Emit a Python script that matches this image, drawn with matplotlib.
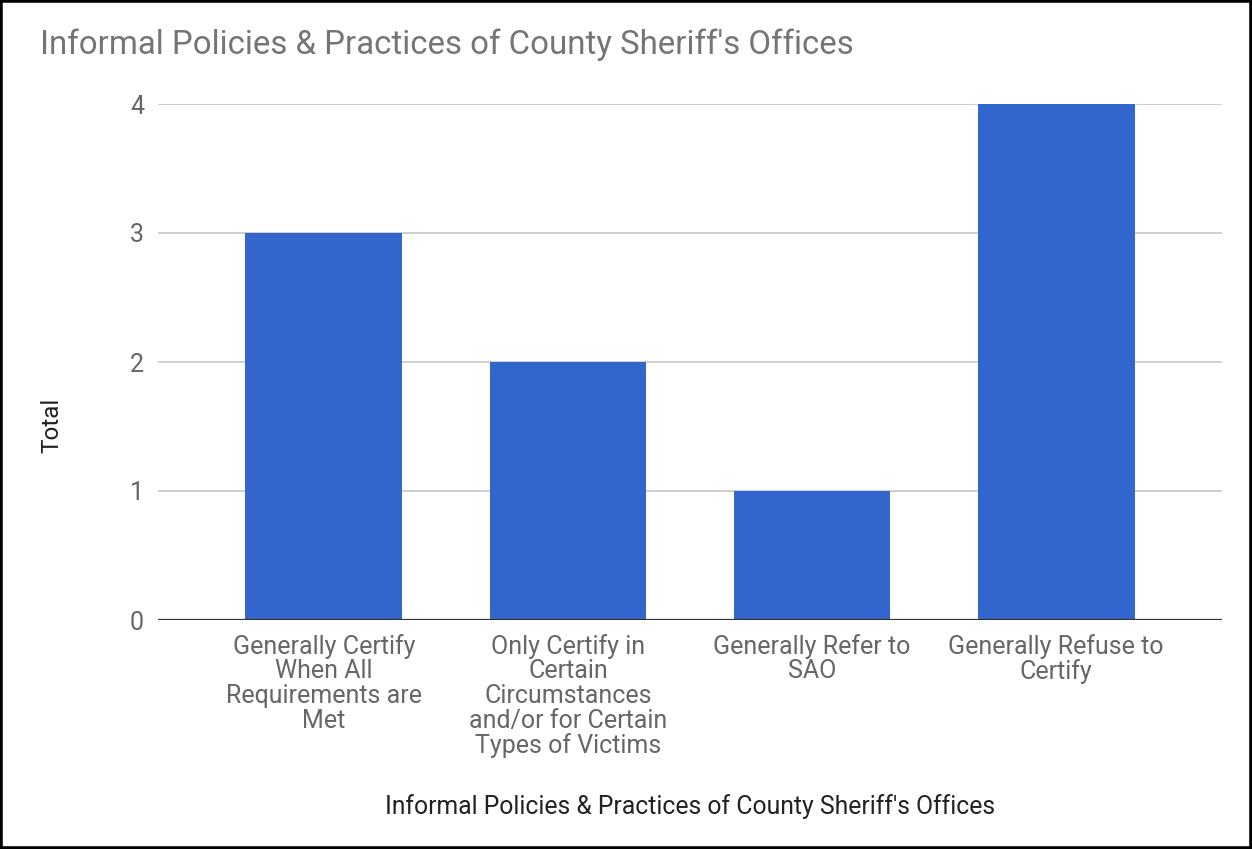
import matplotlib.pyplot as plt
from matplotlib.patches import Rectangle

categories = [
    "Generally Certify\nWhen All\nRequirements are\nMet",
    "Only Certify in\nCertain\nCircumstances\nand/or for Certain\nTypes of Victims",
    "Generally Refer to\nSAO",
    "Generally Refuse to\nCertify",
]
totals = [3, 2, 1, 4]
yticks = [0, 1, 2, 3, 4]

plt.rcParams['font.family'] = ['Roboto', 'DejaVu Sans']

fig = plt.figure(figsize=(12.52, 8.49), dpi=100)
ax = fig.add_axes([158 / 1252, 1 - 620 / 849, (1222 - 158) / 1252, (620 - 104) / 849])

x = range(len(totals))
ax.bar(x, totals, width=0.643, color='#3366cc', zorder=3)

ax.set_xlim(-0.68, 3.68)
ax.set_ylim(0, 4)
ax.set_yticks(yticks)
ax.grid(axis='y', color='#cccccc', linewidth=1.3, zorder=0)
ax.axhline(0, color='#333333', linewidth=1.6, zorder=4)

for s in ax.spines.values():
    s.set_visible(False)

ax.set_xticks(list(x))
ax.set_xticklabels(categories, fontsize=18, color='#666666', linespacing=1.03)
ax.tick_params(axis='x', length=0, pad=10)
ax.tick_params(axis='y', length=0, pad=10, labelsize=18, labelcolor='#666666')

ax.set_ylabel("Total", fontsize=17.5, color='#222222')
ax.yaxis.set_label_coords((52 - 158) / 1064, (620 - 425) / 516)
ax.yaxis.label.set_va('center')
ax.set_xlabel("Informal Policies & Practices of County Sheriff's Offices",
              fontsize=17.8, color='#222222')
ax.xaxis.set_label_coords((690 - 158) / 1064, (620 - 807) / 516)
ax.xaxis.label.set_va('center')

fig.text(40 / 1252, 1 - 45 / 849, "Informal Policies & Practices of County Sheriff's Offices",
         fontsize=23.8, color='#757575', va='center', ha='left')

# black frame round the whole image
fig.patches.append(Rectangle((0, 0), 1, 1, transform=fig.transFigure, fill=False,
                             edgecolor='black', linewidth=4))

fig.savefig('out.png', dpi=100)
